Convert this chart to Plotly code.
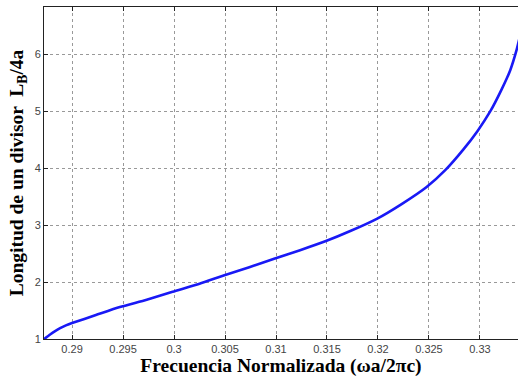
import plotly.graph_objects as go

# Data
freq = [0.28727, 0.28785, 0.28834, 0.28883, 0.2894, 0.29, 0.29234, 0.29469, 0.29732,
        0.29986, 0.3025, 0.30494, 0.30738, 0.30982, 0.31236, 0.3149, 0.31734,
        0.31988, 0.32232, 0.32477, 0.32662, 0.32838, 0.32975, 0.33102, 0.33209,
        0.33297, 0.3336, 0.3339]
length = [1.0, 1.08, 1.14, 1.19, 1.24, 1.28, 1.42, 1.56, 1.69,
          1.83, 1.97, 2.12, 2.26, 2.41, 2.56, 2.72, 2.90,
          3.11, 3.37, 3.67, 3.97, 4.33, 4.65, 5.0, 5.37,
          5.72, 6.08, 6.3]

x_ticks = [0.29, 0.295, 0.3, 0.305, 0.31, 0.315, 0.32, 0.325, 0.33]
x_tick_text = ["0.29", "0.295", "0.3", "0.305", "0.31", "0.315", "0.32", "0.325", "0.33"]
y_ticks = [1, 2, 3, 4, 5, 6]
y_tick_text = ["1", "2", "3", "4", "5", "6"]

x_title = "Frecuencia Normalizada (ωa/2πc)"
y_title = "Longitud de un divisor  L<sub>B</sub>/4a"

fig = go.Figure()
fig.add_trace(go.Scatter(x=freq, y=length, mode="lines",
                         line=dict(color="rgb(25,25,245)", width=2.6,
                                   shape="spline", smoothing=0.6),
                         showlegend=False))

title_font = dict(family="Liberation Serif, Times New Roman, serif", size=19.5, color="black")
tick_font = dict(family="Liberation Sans, Arial, sans-serif", size=11, color="#444444")

fig.update_layout(
    width=518, height=379,
    margin=dict(l=44, r=0, t=7, b=40),
    paper_bgcolor="white", plot_bgcolor="white",
    xaxis=dict(
        range=[0.28725, 0.33373],
        tickvals=x_ticks, ticktext=x_tick_text,
        ticks="inside", ticklen=4, tickcolor="#222",
        showline=True, linecolor="#222", linewidth=1, mirror="ticks",
        showgrid=True, gridcolor="#999", griddash="dot", gridwidth=1,
        zeroline=False, tickfont=tick_font,
        title=dict(text="<b>" + x_title + "</b>", font=title_font, standoff=3),
    ),
    yaxis=dict(
        range=[1, 6.83],
        tickvals=y_ticks, ticktext=y_tick_text,
        ticks="inside", ticklen=4, tickcolor="#222",
        showline=True, linecolor="#222", linewidth=1,
        showgrid=True, gridcolor="#999", griddash="dot", gridwidth=1,
        zeroline=False, tickfont=tick_font,
        title=dict(text="<b>" + y_title + "</b>", font=title_font, standoff=5),
    ),
)

fig.write_html("out.html")
